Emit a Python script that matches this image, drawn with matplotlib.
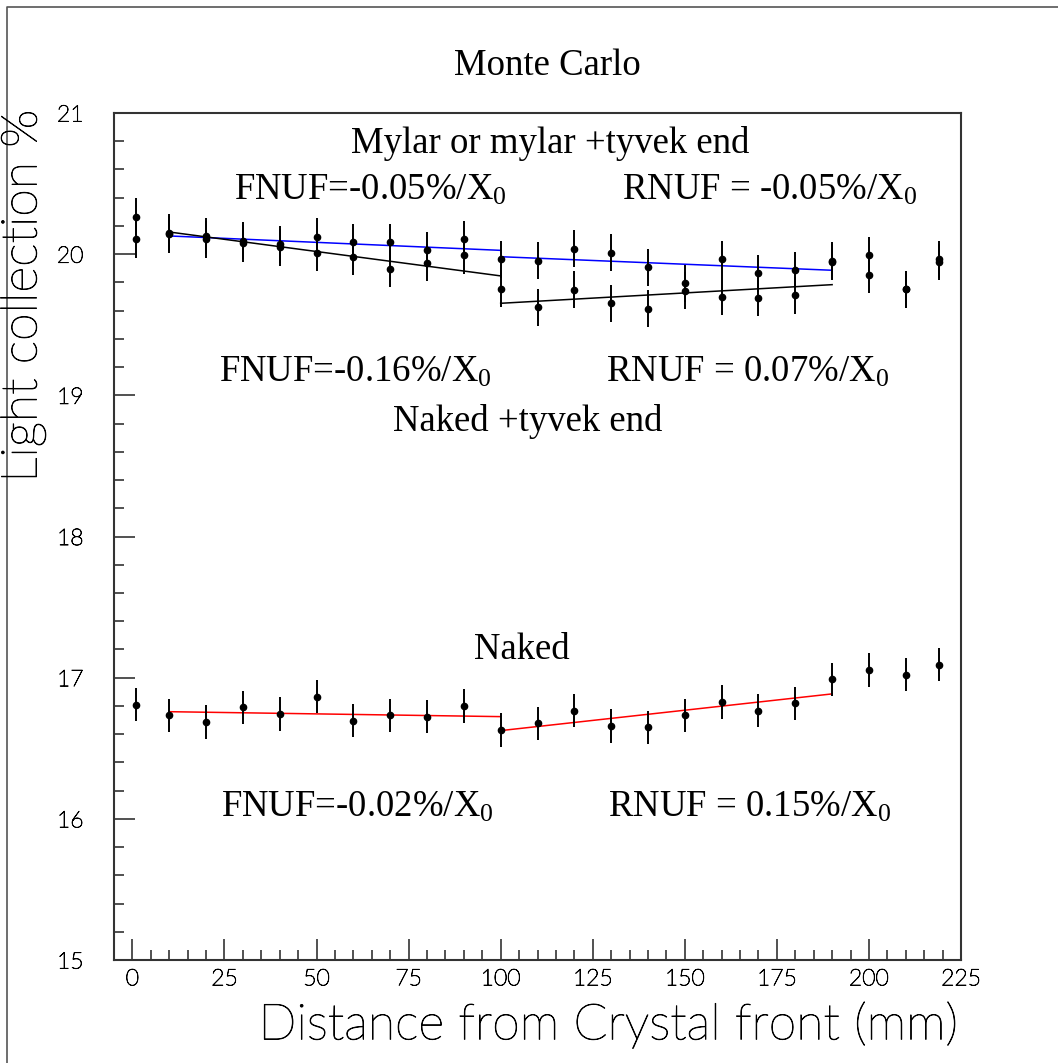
import matplotlib
matplotlib.use("Agg")
import matplotlib.pyplot as plt
from matplotlib.lines import Line2D
from matplotlib.ticker import MultipleLocator
import matplotlib.patheffects as pe

# Measured light collection vs. distance from the crystal front
distance = [1, 10, 20, 30, 40, 50, 60, 70, 80, 90, 100, 110,
            120, 130, 140, 150, 160, 170, 180, 190, 200, 210, 219]

mylar = [20.266, 20.141, 20.129, 20.096, 20.070, 20.124, 20.086, 20.086,
         20.030, 20.106, 19.964, 19.954, 20.039, 20.011, 19.907, 19.794,
         19.964, 19.865, 19.888, 19.954, 19.992, 19.751, 19.964]
mylar_err = [0.13] * len(distance)

naked_tyvek = [20.106, 20.153, 20.106, 20.077, 20.049, 20.011, 19.982, 19.897,
               19.940, 19.992, 19.756, 19.624, 19.749, 19.652, 19.614, 19.741,
               19.699, 19.690, 19.709, 19.945, 19.855, 19.751, 19.945]
naked_tyvek_err = [0.13] * len(distance)

naked = [16.809, 16.734, 16.686, 16.790, 16.743, 16.865, 16.695, 16.734,
         16.724, 16.800, 16.630, 16.677, 16.766, 16.658, 16.649, 16.734,
         16.828, 16.766, 16.819, 16.989, 17.055, 17.021, 17.092]
naked_err = [0.118] * len(distance)

# Linear fits: front part (10-100 mm) and rear part (100-190 mm)
fit_x_front = [10, 100]
fit_x_rear = [100, 190]
mylar_fit_front = [20.129, 20.027]
mylar_fit_rear = [19.982, 19.886]
tyvek_fit_front = [20.157, 19.846]
tyvek_fit_rear = [19.652, 19.784]
naked_fit_front = [16.759, 16.724]
naked_fit_rear = [16.625, 16.885]

W, H = 1058, 1063
fig = plt.figure(figsize=(W / 100, H / 100), dpi=100)
fig.patch.set_facecolor("white")

ax = fig.add_axes([114 / W, 1 - 960 / H, (961 - 114) / W, (960 - 113) / H])
ax.set_xlim(-5, 225)
ax.set_ylim(15, 21)

for x_seg, y_seg, col in [(fit_x_front, mylar_fit_front, "blue"),
                          (fit_x_rear, mylar_fit_rear, "blue"),
                          (fit_x_front, tyvek_fit_front, "black"),
                          (fit_x_rear, tyvek_fit_rear, "black"),
                          (fit_x_front, naked_fit_front, "red"),
                          (fit_x_rear, naked_fit_rear, "red")]:
    ax.plot(x_seg, y_seg, color=col, lw=1.1, zorder=2)

for vals, errs in [(mylar, mylar_err), (naked_tyvek, naked_tyvek_err),
                   (naked, naked_err)]:
    ax.errorbar(distance, vals, yerr=errs, fmt="o", ms=4.5, color="black",
                ecolor="black", elinewidth=1.4, capsize=0, zorder=3)

# Axis styling: ticks inside on left and bottom only
ax.xaxis.set_major_locator(MultipleLocator(25))
ax.xaxis.set_minor_locator(MultipleLocator(5))
ax.yaxis.set_major_locator(MultipleLocator(1))
ax.yaxis.set_minor_locator(MultipleLocator(0.2))
ax.tick_params(which="both", direction="in", top=False, right=False,
               color="#333333", width=1.2)
ax.tick_params(which="major", length=15)
ax.tick_params(which="minor", length=7.5)
ax.tick_params(axis="x", which="major", pad=6)
ax.tick_params(axis="y", which="major", pad=22)
for sp in ax.spines.values():
    sp.set_linewidth(1.5)
    sp.set_color("#333333")

thin_stroke = [pe.withStroke(linewidth=0.6, foreground="black")]
tick_font = dict(family=["Lato", "DejaVu Sans"], weight="light", size=16.5,
                 color="black")
ax.set_xticks([0, 25, 50, 75, 100, 125, 150, 175, 200, 225])
ax.set_xticklabels(["0", "25", "50", "75", "100", "125", "150", "175", "200", "225"],
                   fontdict=tick_font)
ax.set_yticks([15, 16, 17, 18, 19, 20, 21])
ax.set_yticklabels(["15", "16", "17", "18", "19", "20", "21"], fontdict=tick_font)
for lbl in ax.get_xticklabels() + ax.get_yticklabels():
    lbl.set_path_effects(thin_stroke)

label_font = dict(family=["Lato", "DejaVu Sans"], weight="light", size=36)
fig.text(958 / W, 1 - 1025 / H, "Distance from Crystal front (mm)",
         ha="right", va="center", color="black", path_effects=thin_stroke,
         **label_font)
fig.text(23 / W, 1 - 110 / H, "Light collection %", rotation=90,
         ha="center", va="top", color="black", path_effects=thin_stroke,
         **label_font)

# Serif annotations
plt.rcParams["mathtext.fontset"] = "custom"
plt.rcParams["mathtext.rm"] = "Liberation Serif"
plt.rcParams["mathtext.it"] = "Liberation Serif:italic"
serif = dict(family=["Liberation Serif", "DejaVu Serif"], size=26.5, color="black")

fig.text(547 / W, 1 - 75 / H, "Monte Carlo", ha="center", va="baseline", **serif)
ax.text(113.4, 20.717, "Mylar or mylar +tyvek end", ha="center", va="baseline", **serif)
ax.text(27.6, 20.384, r"FNUF=-0.05%/X$_0$", ha="left", va="baseline", **serif)
ax.text(132.9, 20.384, r"RNUF = -0.05%/X$_0$", ha="left", va="baseline", **serif)
ax.text(23.5, 19.094, r"FNUF=-0.16%/X$_0$", ha="left", va="baseline", **serif)
ax.text(128.6, 19.094, r"RNUF = 0.07%/X$_0$", ha="left", va="baseline", **serif)
ax.text(107.2, 18.747, "Naked +tyvek end", ha="center", va="baseline", **serif)
ax.text(105.8, 17.132, "Naked", ha="center", va="baseline", **serif)
ax.text(24.1, 16.013, r"FNUF=-0.02%/X$_0$", ha="left", va="baseline", **serif)
ax.text(129.1, 16.013, r"RNUF = 0.15%/X$_0$", ha="left", va="baseline", **serif)

# Canvas border along the top and left edges
fig.add_artist(Line2D([7 / W, 7 / W, 1.0], [0.0, 1 - 7 / H, 1 - 7 / H],
                      transform=fig.transFigure, color="#555555", lw=1.2))

fig.savefig("out.png", dpi=100)
